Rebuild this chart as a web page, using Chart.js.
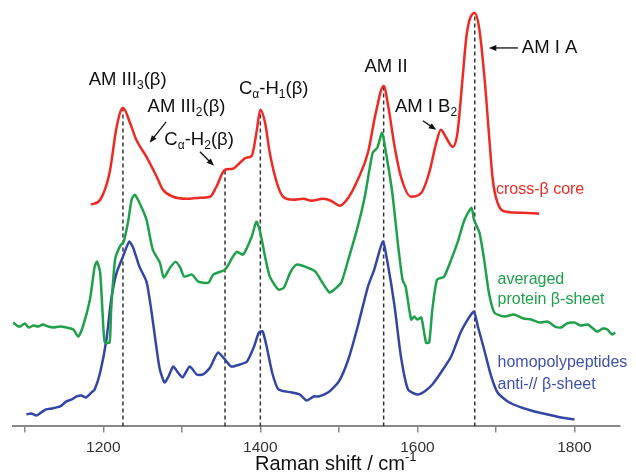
<!DOCTYPE html>
<html>
<head>
<meta charset="utf-8">
<script src="https://cdn.jsdelivr.net/npm/chart.js@4"></script>
<style>
  body { margin: 0; background: #fff; }
</style>
</head>
<body>
<canvas id="myChart" width="636" height="475"></canvas>
<script>
// Raman shift (cm-1) and intensity (arbitrary, common offset scale)
var redX = [1184,1196,1208,1217,1225,1234,1242,1255,1268,1276,1289,1306,1323,1336,1344,1355,1365,1374,1382,1389,1395,1400,1406,1412,1421,1429,1442,1455,1465,1480,1490,1501,1512,1524,1537,1547,1557,1563,1571,1579,1592,1605,1615,1624,1630,1636,1645,1651,1657,1663,1673,1679,1686,1691,1696,1702,1713,1734,1755];
var redY = [222,227,254,300,319,304,287,270,250,237,230,228,229,230,240,257,258,264,269,271,294,317,304,274,244,230,227,228,226,228,226,221,229,247,274,314,341,320,280,250,230,234,254,284,297,290,280,294,344,394,414,397,344,294,247,224,215,214,213];

var greenX = [1085,1090,1094,1100,1105,1111,1117,1123,1130,1136,1145,1153,1162,1168,1174,1183,1189,1192,1196,1200,1202,1208,1210,1215,1221,1226,1232,1236,1240,1246,1255,1263,1272,1277,1285,1292,1298,1303,1313,1321,1334,1340,1355,1365,1370,1378,1389,1395,1400,1406,1412,1423,1430,1438,1446,1457,1470,1479,1488,1494,1503,1512,1523,1533,1543,1549,1555,1560,1568,1575,1581,1585,1592,1596,1600,1605,1611,1615,1619,1625,1634,1643,1651,1660,1669,1672,1679,1685,1691,1698,1711,1723,1735,1745,1756,1766,1775,1783,1790,1800,1808,1817,1829,1836,1842,1848,1852];
var greenY = [104,101,100,103,99,101,100,102,100,99,100,99,97,90,100,127,160,165,154,100,84,84,117,167,180,185,207,227,232,224,207,177,164,149,159,165,159,150,152,145,144,152,157,170,175,172,190,205,194,170,150,137,139,154,162,160,155,144,134,137,144,167,197,230,274,279,294,274,234,184,147,140,107,110,107,109,84,84,117,147,150,167,184,207,219,207,194,167,134,114,110,112,108,107,104,105,100,99,103,104,101,102,95,98,97,92,94];

var blueX = [1102,1108,1115,1121,1127,1135,1145,1153,1160,1166,1172,1178,1185,1189,1196,1204,1210,1217,1225,1233,1238,1246,1255,1261,1268,1272,1278,1283,1289,1295,1301,1310,1319,1327,1336,1346,1355,1363,1374,1383,1392,1398,1403,1408,1415,1423,1440,1450,1459,1468,1474,1488,1500,1512,1524,1537,1545,1556,1562,1571,1579,1588,1600,1609,1619,1630,1643,1655,1664,1672,1677,1685,1694,1702,1715,1732,1749,1766,1783,1800];
var blueY = [12,13,11,14,17,18,20,25,27,30,31,29,34,37,54,87,127,154,170,185,179,160,145,117,77,57,44,50,60,54,49,60,52,52,59,74,67,60,62,65,80,94,95,80,54,37,34,32,26,30,30,35,45,67,100,140,157,185,164,120,70,37,32,35,42,54,70,94,107,115,100,77,50,34,25,19,15,12,9,7];

// band positions marked with dashed lines, up to the cross-beta curve
var bandX = [1225, 1355, 1400, 1557, 1673];
var bandTop = [319, 257, 317, 341, 414];

var tickVals = [1100, 1200, 1300, 1400, 1500, 1600, 1700, 1800];
var tickLabels = [1200, 1400, 1600, 1800];

var FONT = "'Liberation Sans', Arial, sans-serif";

function pts(xs, ys) {
  return xs.map((v, i) => ({x: v, y: ys[i]}));
}

function drawRich(ctx, parts, px, py, align, size, color) {
  var widths = parts.map(p => {
    ctx.font = (p.sub || p.sup ? size * 0.65 : size) + 'px ' + FONT;
    return ctx.measureText(p.t).width;
  });
  var total = widths.reduce((a, b) => a + b, 0);
  var x0 = align === 'center' ? px - total / 2 : px;
  ctx.fillStyle = color;
  ctx.textBaseline = 'middle';
  ctx.textAlign = 'left';
  parts.forEach((p, i) => {
    ctx.font = (p.sub || p.sup ? size * 0.65 : size) + 'px ' + FONT;
    var dy = p.sub ? size * 0.32 : (p.sup ? -size * 0.35 : 0);
    ctx.fillText(p.t, x0, py + dy);
    x0 += widths[i];
  });
}

function arrow(ctx, x1, y1, x2, y2) {
  var a = Math.atan2(y2 - y1, x2 - x1);
  ctx.strokeStyle = '#111';
  ctx.fillStyle = '#111';
  ctx.lineWidth = 1.3;
  ctx.beginPath();
  ctx.moveTo(x1, y1);
  ctx.lineTo(x2 - 4 * Math.cos(a), y2 - 4 * Math.sin(a));
  ctx.stroke();
  ctx.beginPath();
  ctx.moveTo(x2, y2);
  ctx.lineTo(x2 - 8 * Math.cos(a - 0.38), y2 - 8 * Math.sin(a - 0.38));
  ctx.lineTo(x2 - 8 * Math.cos(a + 0.38), y2 - 8 * Math.sin(a + 0.38));
  ctx.closePath();
  ctx.fill();
}

var labelsPlugin = {
  id: 'labels',
  afterDatasetsDraw(chart) {
    var ctx = chart.ctx;
    var xs = chart.scales.x, ys = chart.scales.y;
    var X = v => xs.getPixelForValue(v), Y = v => ys.getPixelForValue(v);
    ctx.save();
    var k = '#111';
    drawRich(ctx, [{t: 'AM III'}, {t: '3', sub: true}, {t: '(β)'}], X(1231), Y(347), 'center', 18.5, k);
    drawRich(ctx, [{t: 'AM III'}, {t: '2', sub: true}, {t: '(β)'}], X(1306), Y(320), 'center', 18.5, k);
    drawRich(ctx, [{t: 'C'}, {t: 'α', sub: true}, {t: '-H'}, {t: '2', sub: true}, {t: '(β)'}], X(1322), Y(287), 'center', 18.5, k);
    drawRich(ctx, [{t: 'C'}, {t: 'α', sub: true}, {t: '-H'}, {t: '1', sub: true}, {t: '(β)'}], X(1417), Y(338), 'center', 18.5, k);
    drawRich(ctx, [{t: 'AM II'}], X(1560), Y(360), 'center', 18.5, k);
    drawRich(ctx, [{t: 'AM I B'}, {t: '2', sub: true}], X(1611), Y(320), 'center', 18.5, k);
    drawRich(ctx, [{t: 'AM I A'}], X(1733), Y(379), 'left', 18.5, k);
    arrow(ctx, X(1280), Y(305), X(1259), Y(284));
    arrow(ctx, X(1323), Y(275), X(1341), Y(261));
    arrow(ctx, X(1607), Y(306), X(1624), Y(297));
    arrow(ctx, X(1728), Y(379), X(1691), Y(379));

    drawRich(ctx, [{t: 'cross-β core'}], X(1700), Y(237), 'left', 16, '#ee2a24');
    drawRich(ctx, [{t: 'averaged'}], X(1702), Y(147), 'left', 16, '#1fa04a');
    drawRich(ctx, [{t: 'protein β-sheet'}], X(1702), Y(127), 'left', 16, '#1fa04a');
    drawRich(ctx, [{t: 'homopolypeptides'}], X(1702), Y(64), 'left', 16, '#3f51b0');
    drawRich(ctx, [{t: 'anti-// β-sheet'}], X(1702), Y(42), 'left', 16, '#3f51b0');

    drawRich(ctx, [{t: 'Raman shift / cm'}, {t: '-1', sup: true}], X(1496), chart.chartArea.bottom + 38, 'center', 20, k);
    ctx.restore();
  }
};

var datasets = [
  {data: pts(redX, redY), borderColor: '#ee2a24', borderWidth: 2.5, tension: 0.4, cubicInterpolationMode: 'monotone'},
  {data: pts(greenX, greenY), borderColor: '#1fa04a', borderWidth: 2.5, tension: 0.2},
  {data: pts(blueX, blueY), borderColor: '#3346a6', borderWidth: 2.5, tension: 0.2}
];
bandX.forEach((v, i) => {
  datasets.push({data: [{x: v, y: 0}, {x: v, y: bandTop[i]}], borderColor: '#333', borderWidth: 1.5, borderDash: [4, 3]});
});

var ctx = document.getElementById('myChart').getContext('2d');
var myChart = new Chart(ctx, {
  type: 'line',
  data: {datasets: datasets},
  options: {
    responsive: false,
    animation: false,
    devicePixelRatio: 1,
    layout: {padding: {top: 5, left: 13, right: 16, bottom: 12}},
    elements: {point: {radius: 0}, line: {fill: false}},
    plugins: {legend: {display: false}, tooltip: {enabled: false}},
    scales: {
      x: {
        type: 'linear',
        min: 1085,
        max: 1858,
        afterBuildTicks: function(scale) {
          scale.ticks = tickVals.map(v => ({value: v}));
        },
        ticks: {
          autoSkip: false,
          maxRotation: 0,
          padding: 6,
          color: '#333',
          font: {size: 15.5, family: FONT},
          callback: v => tickLabels.includes(v) ? String(v) : ''
        },
        grid: {drawOnChartArea: false, drawTicks: true, tickLength: 6, color: '#888', lineWidth: 1.5},
        border: {display: true, color: '#888', width: 2}
      },
      y: {display: false, min: 0, max: 422}
    }
  },
  plugins: [labelsPlugin]
});
</script>
</body>
</html>
